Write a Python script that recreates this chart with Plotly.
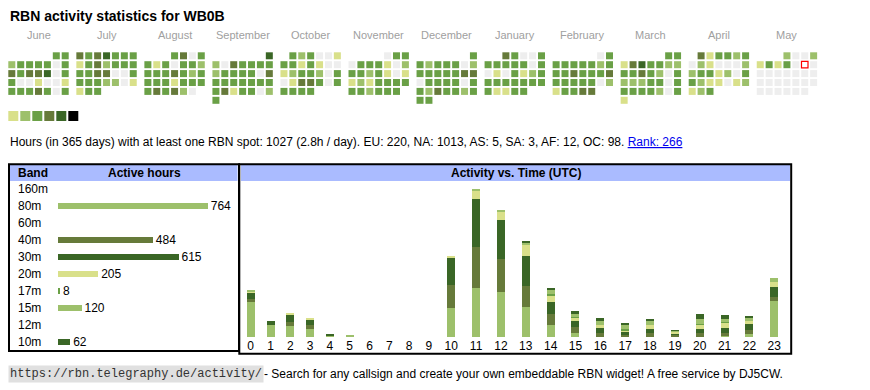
import datetime as dt
import plotly.graph_objects as go

W, H = 870, 390
FONT = "Liberation Sans, Arial, sans-serif"
MONO = "Liberation Mono, DejaVu Sans Mono, monospace"

# ---------------- data ----------------
TITLE = "RBN activity statistics for WB0B"
MONTH_NAMES = ["June", "July", "August", "September", "October", "November",
               "December", "January", "February", "March", "April", "May"]
START_YEAR, START_MONTH = 2024, 6
TODAY = dt.date(2025, 5, 10)

# daily activity level (0 = none ... 5 = most), one digit per day
lv_2024_06 = "33" "2333303" "4344503" "3001001" "3334303"
lv_2024_07 = "4345333" "1342333" "3344003" "3332201" "133"
lv_2024_08 = "3403" "3130332" "3334323" "3331333" "343420"
lv_2024_09 = "5" "2043333" "2333304" "3333333" "3413302" "3"
lv_2024_10 = "323001" "3313100" "1233203" "0144303" "3333"
lv_2024_11 = "033" "0333102" "3323101" "1213333" "332333"
lv_2024_12 = "3" "3233302" "3333344" "0333303" "3243323" "33"
lv_2025_01 = "43003" "3333303" "0103123" "3333333" "31133"
lv_2025_02 = "03" "3333323" "3343334" "3333302" "13344"
lv_2025_03 = "33" "1453322" "3343203" "2223303" "3333203" "1"
lv_2025_04 = "413323" "0210002" "2331203" "3211012" "123"
lv_2025_05 = "2002" "1313000" "0000000" "0000000" "000000"
MONTH_LEVELS = [lv_2024_06, lv_2024_07, lv_2024_08, lv_2024_09, lv_2024_10, lv_2024_11,
                lv_2024_12, lv_2025_01, lv_2025_02, lv_2025_03, lv_2025_04, lv_2025_05]

PALETTE = ["#eeeeee", "#d9e08a", "#9dc06b", "#6aa046", "#667a3a", "#3a6626", "#000000"]

TOTAL_HOURS = 1027
DAYS = 365
PER_DAY = "2.8h"
CONTINENTS = ["EU", "NA", "AS", "SA", "AF", "OC"]
CONT_HOURS = [220, 1013, 5, 3, 12, 98]
RANK = 266

BANDS = ["160m", "80m", "60m", "40m", "30m", "20m", "17m", "15m", "12m", "10m"]
BAND_HOURS = [None, 764, None, 484, 615, 205, 8, 120, None, 62]
BAND_COLOR = ["#d9e08a", "#9dc06b", "#6aa046", "#667a3a", "#3a6626",
              "#d9e08a", "#6aa046", "#9dc06b", "#667a3a", "#3a6626"]

HOUR_LABELS = [str(h) for h in range(24)]
h_80m = [97, 32, 30, 22, 3, 3, 0, 0, 0, 0, 81, 135, 124, 84, 32, 11, 0, 0, 0, 0, 0, 3, 8, 99]
h_40m = [8, 0, 11, 11, 0, 0, 0, 0, 0, 0, 64, 113, 92, 58, 31, 17, 11, 8, 11, 8, 11, 8, 11, 11]
h_30m = [16, 11, 22, 16, 3, 0, 0, 0, 0, 0, 73, 134, 106, 82, 35, 16, 14, 5, 11, 3, 11, 14, 16, 27]
h_20m = [6, 0, 3, 3, 0, 0, 0, 0, 0, 0, 6, 24, 24, 31, 18, 9, 9, 6, 12, 3, 12, 15, 9, 15]
h_17m = [0, 0, 0, 0, 0, 0, 0, 0, 0, 0, 0, 0, 0, 0, 2, 1, 0, 2, 0, 0, 2, 1, 0, 0]
h_15m = [3, 0, 0, 0, 0, 0, 0, 0, 0, 0, 0, 3, 3, 7, 13, 10, 11, 12, 11, 3, 13, 10, 10, 11]
h_10m = [0, 0, 0, 0, 0, 0, 0, 0, 0, 0, 0, 0, 0, 3, 3, 7, 7, 6, 6, 2, 14, 10, 4, 0]
HOURLY = [("80m", h_80m), ("40m", h_40m), ("30m", h_30m), ("20m", h_20m),
          ("17m", h_17m), ("15m", h_15m), ("10m", h_10m)]

# ---------------- layout constants (px) ----------------
CAL_X0, CAL_Y0 = 8.3, 52.3
CELL, CELL_STEP, MONTH_STEP = 7, 8.9, 68.04
HDR_BG = "#aabbff"


def px(x):
    return x / W


def py(y):
    return 1 - y / H


fig = go.Figure()

# ---------------- calendar ----------------
cx, cy, cc = [], [], []
tx, ty = [], []
for m_idx, levels in enumerate(MONTH_LEVELS):
    year = START_YEAR + (START_MONTH - 1 + m_idx) // 12
    month = (START_MONTH - 1 + m_idx) % 12 + 1
    off = dt.date(year, month, 1).weekday()
    for d, ch in enumerate(levels):
        slot = off + d
        col, row = slot % 7, slot // 7
        x = CAL_X0 + m_idx * MONTH_STEP + col * CELL_STEP + CELL / 2
        y = CAL_Y0 + row * CELL_STEP + CELL / 2
        cx.append(x); cy.append(y); cc.append(PALETTE[int(ch)])
        if dt.date(year, month, d + 1) == TODAY:
            tx.append(x); ty.append(y)

fig.add_trace(go.Scatter(x=cx, y=cy, mode="markers", xaxis="x", yaxis="y",
                         marker=dict(symbol="square", size=CELL, color=cc, line=dict(width=0)),
                         hoverinfo="skip"))
fig.add_trace(go.Scatter(x=tx, y=ty, mode="markers", xaxis="x", yaxis="y",
                         marker=dict(symbol="square", size=6.5, color="#ffffff",
                                     line=dict(width=1.2, color="#ff0000")),
                         hoverinfo="skip"))
# level legend swatches
fig.add_trace(go.Scatter(x=[CAL_X0 + 5 + 12 * k for k in range(len(PALETTE) - 1)],
                         y=[116] * (len(PALETTE) - 1), mode="markers", xaxis="x", yaxis="y",
                         marker=dict(symbol="square", size=10, color=PALETTE[1:], line=dict(width=0)),
                         hoverinfo="skip"))

annotations = []
annotations.append(dict(text="<b>" + TITLE + "</b>", x=px(8), y=py(16), xref="paper", yref="paper",
                        xanchor="left", yanchor="middle", showarrow=False,
                        font=dict(family=FONT, size=14, color="#000")))
for m_idx, name in enumerate(MONTH_NAMES):
    annotations.append(dict(text=name, x=px(CAL_X0 + m_idx * MONTH_STEP + (6 * CELL_STEP + CELL) / 2),
                            y=py(35), xref="paper", yref="paper", xanchor="center", yanchor="middle",
                            showarrow=False, font=dict(family=FONT, size=11, color="#a0a0a0")))

stats = (f"Hours (in {DAYS} days) with at least one RBN spot: {TOTAL_HOURS} ({PER_DAY} / day). "
         + ", ".join(f"{c}: {v}" for c, v in zip(CONTINENTS, CONT_HOURS)) + ". "
         + f"<span style='color:#0000ee;text-decoration:underline'>Rank: {RANK}</span>")
annotations.append(dict(text=stats, x=px(8), y=py(142), xref="paper", yref="paper",
                        xanchor="left", yanchor="middle", showarrow=False,
                        font=dict(family=FONT, size=12, color="#000")))

# ---------------- band table ----------------
fig.add_trace(go.Bar(y=BANDS, x=BAND_HOURS, orientation="h", xaxis="x2", yaxis="y2",
                     width=0.41, marker=dict(color=BAND_COLOR, line=dict(width=0)),
                     text=["" if v is None else str(v) for v in BAND_HOURS],
                     textposition="outside", cliponaxis=False, constraintext="none",
                     textfont=dict(family=FONT, size=12, color="#000"), hoverinfo="skip"))
for b in BANDS:
    annotations.append(dict(text=b, x=px(16), y=b, xref="paper", yref="y2", xanchor="left",
                            yanchor="middle", showarrow=False,
                            font=dict(family=FONT, size=12, color="#000")))
annotations.append(dict(text="<b>Band</b>", x=px(16), y=py(173), xref="paper", yref="paper",
                        xanchor="left", yanchor="middle", showarrow=False,
                        font=dict(family=FONT, size=12, color="#000")))
annotations.append(dict(text="<b>Active hours</b>", x=px(144.5), y=py(173), xref="paper", yref="paper",
                        xanchor="center", yanchor="middle", showarrow=False,
                        font=dict(family=FONT, size=12, color="#000")))

# ---------------- hourly chart ----------------
HOUR_X0 = 240.8
col_w = [19.8 if len(l) == 1 else 24.85 for l in HOUR_LABELS]
centers, acc = [], HOUR_X0
for w in col_w:
    centers.append(acc + w / 2)
    acc += w
color_of = dict(zip(BANDS, BAND_COLOR))
for band, vals in HOURLY:
    fig.add_trace(go.Bar(x=centers, y=vals, xaxis="x3", yaxis="y3", width=8,
                         marker=dict(color=color_of[band], line=dict(width=0)), hoverinfo="skip"))
annotations.append(dict(text="<b>Activity vs. Time (UTC)</b>", x=px(515.5), y=py(173), xref="paper",
                        yref="paper", xanchor="center", yanchor="middle", showarrow=False,
                        font=dict(family=FONT, size=12, color="#000")))

# footer
annotations.append(dict(text="https://rbn.telegraphy.de/activity/", x=px(8), y=py(374), xref="paper",
                        yref="paper", xanchor="left", yanchor="middle", showarrow=False,
                        bgcolor="#e0e0e0", borderpad=1,
                        font=dict(family=MONO, size=12, color="#333")))
annotations.append(dict(text="- Search for any callsign and create your own embeddable RBN widget! "
                             "A free service by DJ5CW.", x=px(262), y=py(374), xref="paper",
                        yref="paper", xanchor="left", yanchor="middle", showarrow=False,
                        font=dict(family=FONT, size=12, color="#000")))

shapes = [
    dict(type="rect", xref="paper", yref="paper", x0=px(10), x1=px(237.5), y0=py(165), y1=py(181),
         fillcolor=HDR_BG, line=dict(width=0), layer="below"),
    dict(type="rect", xref="paper", yref="paper", x0=px(241), x1=px(790), y0=py(165), y1=py(181),
         fillcolor=HDR_BG, line=dict(width=0), layer="below"),
    dict(type="rect", xref="paper", yref="paper", x0=px(9), x1=px(239), y0=py(164.3), y1=py(351),
         line=dict(width=2, color="#000")),
    dict(type="rect", xref="paper", yref="paper", x0=px(239.3), x1=px(791.2), y0=py(164.3), y1=py(353.8),
         line=dict(width=2, color="#000")),
]

fig.update_layout(
    width=W, height=H, autosize=False, margin=dict(l=0, r=0, t=0, b=0),
    paper_bgcolor="white", plot_bgcolor="rgba(0,0,0,0)", showlegend=False,
    barmode="stack",
    xaxis=dict(domain=[0, 1], range=[0, W], visible=False, fixedrange=True),
    yaxis=dict(domain=[0, 1], range=[H, 0], visible=False, fixedrange=True),
    xaxis2=dict(domain=[px(58), px(238)], range=[0, 918.6], visible=False, anchor="y2", fixedrange=True),
    yaxis2=dict(domain=[py(350.5), py(180.5)], type="category", categoryorder="array",
                categoryarray=BANDS, range=[9.5, -0.5], visible=False, anchor="x2", fixedrange=True),
    xaxis3=dict(domain=[0, 1], range=[0, W], anchor="y3", tickmode="array", tickvals=centers,
                ticktext=HOUR_LABELS, showgrid=False, zeroline=False, showline=False, ticks="",
                tickfont=dict(family=FONT, size=12, color="#000"), fixedrange=True),
    yaxis3=dict(domain=[py(337), py(183)], range=[0, 425.6], visible=False, anchor="x3", fixedrange=True),
    annotations=annotations, shapes=shapes,
)

fig.write_html("out.html", config={"displayModeBar": False},
               post_script="document.body.style.margin='0';document.body.style.overflow='hidden';")
